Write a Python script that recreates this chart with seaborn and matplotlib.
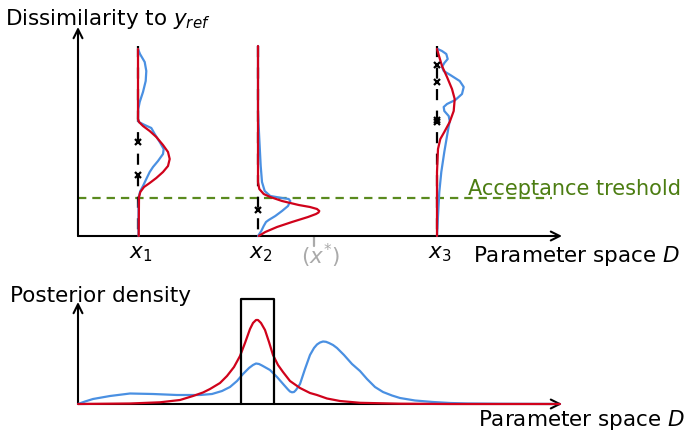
import matplotlib
matplotlib.use("Agg")
import matplotlib.pyplot as plt
import pandas as pd
import seaborn as sns

sns.set_style("white")
plt.rcParams["font.family"] = ["DejaVu Sans"]
plt.rcParams["mathtext.fontset"] = "dejavusans"
plt.rcParams["lines.scale_dashes"] = False
plt.rcParams["text.color"] = "black"

BLUE = "#4a90e2"
RED = "#d0021b"
GREEN = "#5a8a1e"
GREEN_TXT = "#4c7d12"
GREY = "#aaaaaa"

# ---------------- top panel: dissimilarity vs parameter ----------------
x_points = [6.0, 18.0, 35.9]
x_labels = [r"$x_1$", r"$x_2$", r"$x_3$"]
x_star = 23.6
threshold = 3.8
dissim_top = 19.0

# observed dissimilarities at each evaluated point
obs_x1 = [9.4, 6.1]
obs_x2 = [2.6]
obs_x3 = [17.1, 15.4, 11.6, 11.4]

# predictive densities of the dissimilarity at each point
# (dissimilarity level, density width drawn to the right of the point)
x1_blue_level = [18.7, 18.2, 17.4, 16.5, 15.5, 14.4, 13.4, 12.7, 11.7, 11.4, 11.1, 10.8,
                 10.2, 9.4, 8.7, 8.2, 7.5, 6.9, 6.4, 5.7, 5.0, 4.5, 4.0, 2.7, 0.0]
x1_blue_width = [0.0, 0.2, 0.67, 0.83, 0.77, 0.5, 0.17, 0.03, 0.0, 0.07, 0.67, 1.33,
                 1.67, 2.17, 2.57, 2.5, 2.0, 1.5, 1.17, 0.83, 0.5, 0.23, 0.1, 0.05, 0.05]
x1_red_level = [18.7, 11.7, 11.4, 11.0, 10.5, 9.9, 9.1, 8.4, 7.7, 7.0, 6.4, 5.8, 5.3,
                4.9, 4.4, 3.9, 0.0]
x1_red_width = [0.0, 0.0, 0.1, 0.5, 1.17, 1.83, 2.5, 3.0, 3.17, 3.0, 2.5, 1.83, 1.17,
                0.6, 0.23, 0.1, 0.07]

x2_blue_level = [19.0, 12.4, 9.7, 7.0, 5.4, 4.5, 4.0, 3.8, 3.7, 3.5, 3.0, 2.5, 2.0,
                 1.6, 1.4, 1.0, 0.5, 0.0]
x2_blue_width = [0.0, 0.0, 0.13, 0.27, 0.4, 0.67, 1.23, 2.4, 3.07, 3.23, 3.0, 2.4, 1.73,
                 1.07, 0.8, 0.57, 0.33, 0.0]
x2_red_level = [19.0, 5.4, 4.7, 4.2, 3.9, 3.5, 3.1, 2.9, 2.7, 2.5, 2.35, 2.2, 1.9, 1.4,
                0.9, 0.4, 0.0]
x2_red_width = [0.0, 0.0, 0.13, 0.57, 1.23, 2.4, 4.07, 5.2, 5.9, 6.13, 6.05, 5.8, 5.0,
                3.4, 1.9, 0.73, 0.07]

x3_blue_level = [18.7, 18.5, 18.2, 17.7, 17.3, 16.9, 16.5, 16.1, 15.5, 14.9, 14.2, 13.6,
                 13.2, 12.9, 12.5, 12.0, 11.5, 10.4, 8.4, 6.4, 4.4, 2.0, 0.0]
x3_blue_width = [0.07, 0.5, 0.93, 1.07, 0.73, 0.5, 0.67, 1.33, 2.27, 2.67, 2.5, 1.83,
                 1.0, 0.67, 0.73, 1.17, 1.27, 1.07, 0.73, 0.43, 0.23, 0.1, 0.0]
x3_red_level = [18.7, 18.0, 17.0, 15.9, 14.7, 13.7, 12.5, 11.4, 10.4, 9.7, 8.7, 6.4, 0.0]
x3_red_width = [0.0, 0.2, 0.5, 1.0, 1.5, 1.77, 1.67, 1.27, 0.73, 0.33, 0.1, 0.0, 0.0]

# ---------------- bottom panel: posterior density ----------------
post_blue_x = [0.0, 0.7, 1.5, 3.2, 5.2, 7.5, 9.9, 12.2, 13.4, 14.4, 15.2, 15.9, 16.5,
               17.1, 17.5, 17.8, 18.1, 18.4, 19.2, 19.9, 20.6, 21.0, 21.2, 21.4, 21.6,
               21.8, 22.2, 22.7, 23.2, 23.6, 23.9, 24.2, 24.5, 24.8, 25.1, 25.5, 25.9,
               26.6, 27.4, 28.2, 28.9, 29.7, 30.5, 31.4, 32.2, 33.7, 35.5, 37.2, 38.9,
               42.2, 48.2]
post_blue_y = [0.0, 0.25, 0.5, 0.8, 1.05, 1.0, 0.9, 0.9, 1.0, 1.3, 1.7, 2.3, 3.0, 3.6,
               3.9, 4.05, 4.0, 3.85, 3.4, 2.7, 1.9, 1.45, 1.25, 1.17, 1.2, 1.4, 2.0, 3.5,
               4.9, 5.6, 5.95, 6.15, 6.25, 6.22, 6.1, 5.9, 5.6, 4.9, 4.0, 3.3, 2.5, 1.7,
               1.2, 0.85, 0.6, 0.35, 0.2, 0.1, 0.05, 0.02, 0.0]
post_red_x = [0.0, 5.2, 8.2, 10.2, 11.5, 12.5, 13.2, 14.2, 14.9, 15.6, 16.2, 16.7, 17.2,
              17.5, 17.8, 18.0, 18.3, 18.7, 19.1, 19.5, 20.0, 20.5, 21.2, 22.2, 23.2,
              23.9, 24.9, 26.2, 28.2, 32.2, 37.2, 48.2]
post_red_y = [0.0, 0.05, 0.17, 0.4, 0.8, 1.15, 1.5, 2.1, 2.8, 3.7, 4.8, 6.1, 7.5, 8.1,
              8.4, 8.4, 8.1, 7.4, 6.2, 4.9, 3.9, 3.2, 2.3, 1.6, 1.1, 0.9, 0.55, 0.3,
              0.12, 0.03, 0.0, 0.0]
box_left, box_right, box_top = 16.3, 19.6, 10.5

fig = plt.figure(figsize=(6.88, 4.31), dpi=100)

def px_to_fig(px, py):
    return px / 688.0, 1.0 - py / 431.0

# both panels share the horizontal scale: x = (pixel - 78) / 10
ax_top = fig.add_axes([0, 0, 1, 1])
ax_top.set_xlim(-7.8, 61.0)
ax_top.set_ylim(-19.4, 23.7)
ax_top.axis("off")

ax_bot = fig.add_axes([0, 0, 1, 1])
ax_bot.set_xlim(-7.8, 61.0)
ax_bot.set_ylim(-2.6, 40.5)
ax_bot.axis("off")
ax_bot.patch.set_alpha(0)

arrow = dict(arrowstyle="->", color="black", lw=1.5, mutation_scale=16,
             shrinkA=0, shrinkB=0)

# axes with arrows
ax_top.annotate("", xy=(0, 20.9), xytext=(0, 0), arrowprops=arrow)
ax_top.annotate("", xy=(48.4, 0), xytext=(0, 0), arrowprops=arrow)
ax_bot.annotate("", xy=(0, 10.2), xytext=(0, 0), arrowprops=arrow)
ax_bot.annotate("", xy=(48.4, 0), xytext=(0, 0), arrowprops=arrow)

# acceptance threshold
ax_top.plot([0, 47.4], [threshold, threshold], color=GREEN, lw=1.6,
            dashes=(6, 4.3), zorder=2)

# vertical dashed lines with the observed dissimilarities
for xi in x_points:
    ax_top.plot([xi, xi], [dissim_top, 0], color="black", lw=1.6,
                dashes=(8, 7.5), zorder=2)
for xi, obs in zip(x_points, [obs_x1, obs_x2, obs_x3]):
    ax_top.plot([xi] * len(obs), obs, linestyle="none", marker="x",
                color="black", ms=5, mew=1.6, zorder=5)

# predictive densities drawn along each vertical line
curves = [
    (x_points[0], x1_blue_level, x1_blue_width, x1_red_level, x1_red_width),
    (x_points[1], x2_blue_level, x2_blue_width, x2_red_level, x2_red_width),
    (x_points[2], x3_blue_level, x3_blue_width, x3_red_level, x3_red_width),
]
for xi, bl, bw, rl, rw in curves:
    blue = pd.DataFrame({"x": [xi + w for w in bw], "y": bl})
    red = pd.DataFrame({"x": [xi + w for w in rw], "y": rl})
    sns.lineplot(data=blue, x="x", y="y", sort=False, estimator=None,
                 color=BLUE, lw=1.6, ax=ax_top, zorder=3)
    sns.lineplot(data=red, x="x", y="y", sort=False, estimator=None,
                 color=RED, lw=1.6, ax=ax_top, zorder=4)

# optimum tick
ax_top.plot([x_star, x_star], [0, -1.0], color=GREY, lw=1.6, zorder=2)

# posterior densities
sns.lineplot(x=post_blue_x, y=post_blue_y, sort=False, estimator=None,
             color=BLUE, lw=1.6, ax=ax_bot, zorder=3)
sns.lineplot(x=post_red_x, y=post_red_y, sort=False, estimator=None,
             color=RED, lw=1.6, ax=ax_bot, zorder=4)
ax_bot.plot([box_left, box_left, box_right, box_right],
            [0, box_top, box_top, 0], color="black", lw=1.6, zorder=5)

# labels
fs = 15.5
fig.text(*px_to_fig(5, 25), r"Dissimilarity to $y_{ref}$", fontsize=fs, va="baseline")
for xi, lab in zip(x_points, x_labels):
    ax_top.text(xi + 0.3, -2.1, lab, fontsize=fs, ha="center", va="baseline")
ax_top.text(x_star + 0.6, -2.75, r"$(x^{*})$", fontsize=fs, ha="center",
            va="baseline", color=GREY)
fig.text(*px_to_fig(473, 262), r"Parameter space $D$", fontsize=fs, va="baseline")
fig.text(*px_to_fig(468, 195), "Acceptance treshold", fontsize=15, va="baseline",
         color=GREEN_TXT)
fig.text(*px_to_fig(10, 302), "Posterior density", fontsize=fs, va="baseline")
fig.text(*px_to_fig(478, 426), r"Parameter space $D$", fontsize=fs, va="baseline")

fig.savefig("out.png", dpi=100)
